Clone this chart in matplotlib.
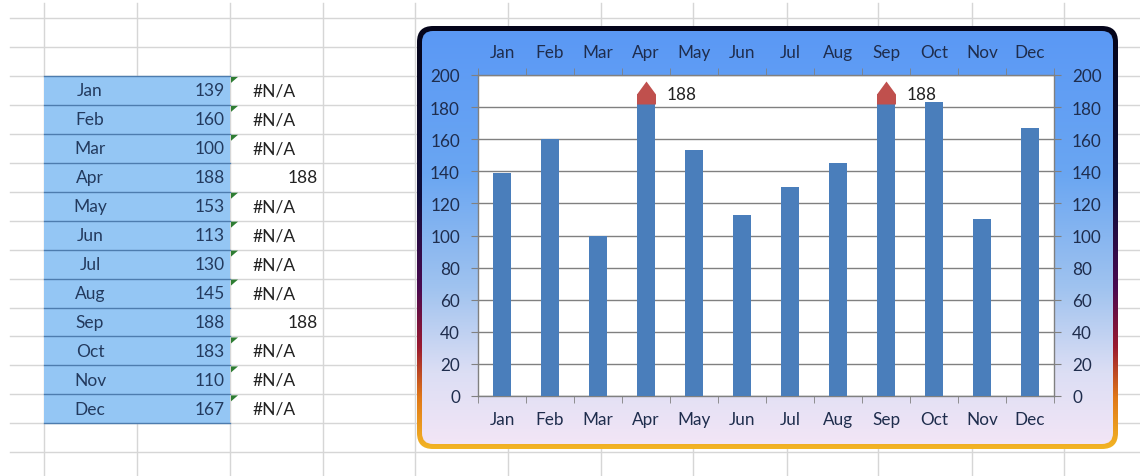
import numpy as np
import matplotlib
matplotlib.use("Agg")
import matplotlib.pyplot as plt
from matplotlib.patches import FancyBboxPatch, Rectangle, Polygon
from matplotlib.colors import LinearSegmentedColormap

# data as shown in the sheet
months = ["Jan", "Feb", "Mar", "Apr", "May", "Jun",
          "Jul", "Aug", "Sep", "Oct", "Nov", "Dec"]
sales = [139, 160, 100, 188, 153, 113, 130, 145, 188, 183, 110, 167]
peak = [np.nan, np.nan, np.nan, 188, np.nan, np.nan,
        np.nan, np.nan, 188, np.nan, np.nan, np.nan]
y_ticks = [0, 20, 40, 60, 80, 100, 120, 140, 160, 180, 200]

W, H, DPI = 1140, 477, 100
FONT = ["Lato", "DejaVu Sans"]
plt.rcParams["font.family"] = FONT

BAR = "#4a7ebb"
RED = "#c0504d"
GRID = "#808080"
LABEL = "#1f2d4d"
TS = 12.5   # table text size
CS = 12.3   # chart text size

fig = plt.figure(figsize=(W / DPI, H / DPI), dpi=DPI)
fig.patch.set_facecolor("white")

# --- spreadsheet backdrop (pixel coordinates) ---
bg = fig.add_axes([0, 0, 1, 1])
bg.set_xlim(0, W)
bg.set_ylim(H, 0)
bg.axis("off")

col_x = [44, 137, 230, 323, 415, 508, 601, 693, 787, 878, 972, 1064]
row_y = [19 + 28.95 * i for i in range(16)]
for cx in col_x:
    bg.plot([cx, cx], [4, H], color="#d6d6d6", lw=1, zorder=1)
for ry in row_y:
    bg.plot([10, W], [ry, ry], color="#d6d6d6", lw=1, zorder=1)

# table
t_top, t_bot = row_y[2], row_y[14]
bg.add_patch(Rectangle((44, t_top), 186, t_bot - t_top,
                       facecolor="#94c6f4", edgecolor="none", zorder=2))
for i, (m, v, p) in enumerate(zip(months, sales, peak)):
    top = row_y[2 + i]
    mid = top + 14.5
    bg.plot([44, 230], [top + 28.95, top + 28.95], color="#4d7cae", lw=1, zorder=3)
    bg.text(90, mid, m, ha="center", va="center", fontsize=TS, color="#233a5e", zorder=4)
    bg.text(225, mid, str(v), ha="right", va="center", fontsize=TS, color="#233a5e", zorder=4)
    if np.isnan(p):
        bg.text(253, mid, "#N/A", ha="left", va="center", fontsize=TS, color="#222222", zorder=4)
        bg.add_patch(Polygon([(231, top + 1), (238, top + 1), (231, top + 7)],
                             closed=True, facecolor="#2e7d32", edgecolor="none", zorder=4))
    else:
        bg.text(318, mid, f"{p:.0f}", ha="right", va="center", fontsize=TS, color="#222222", zorder=4)
bg.plot([44, 230], [t_top, t_top], color="#4d7cae", lw=1, zorder=3)

# chart frame: gradient border + gradient fill
fx0, fy0, fx1, fy1 = 417, 27, 1118, 450
border_cmap = LinearSegmentedColormap.from_list("border", [
    (0.0, "#05051a"), (0.4, "#0e0e3a"), (0.62, "#4a0a50"),
    (0.76, "#9a1a30"), (0.88, "#e07818"), (1.0, "#f2b424")])
fill_cmap = LinearSegmentedColormap.from_list("fill", [
    (0.0, "#5a98f5"), (0.35, "#6aa6f2"), (0.62, "#a0c3ef"),
    (0.82, "#dcdef4"), (1.0, "#f4e6f6")])
grad = np.linspace(0, 1, 256).reshape(-1, 1)

outer = FancyBboxPatch((fx0, fy0), fx1 - fx0, fy1 - fy0,
                       boxstyle="round,pad=0,rounding_size=16",
                       facecolor="none", edgecolor="none", zorder=5)
bg.add_patch(outer)
im = bg.imshow(grad, extent=[fx0, fx1, fy1, fy0], aspect="auto",
               cmap=border_cmap, zorder=5)
im.set_clip_path(outer)

b = 5
inner = FancyBboxPatch((fx0 + b, fy0 + b), fx1 - fx0 - 2 * b, fy1 - fy0 - 2 * b,
                       boxstyle="round,pad=0,rounding_size=11",
                       facecolor="none", edgecolor="none", zorder=6)
bg.add_patch(inner)
im2 = bg.imshow(grad, extent=[fx0, fx1, fy1, fy0], aspect="auto",
                cmap=fill_cmap, zorder=6)
im2.set_clip_path(inner)
bg.set_xlim(0, W)
bg.set_ylim(H, 0)

# --- the chart ---
px0, px1, py_top, py_bot = 478, 1054, 76, 397
ax = fig.add_axes([px0 / W, 1 - py_bot / H, (px1 - px0) / W, (py_bot - py_top) / H])
ax.set_facecolor("white")

x = np.arange(len(months))
ax.bar(x, sales, width=0.38, color=BAR, zorder=3)

# arrow-head marker on the peak months
arrow = [(-9.5, -10), (9.5, -10), (9.5, 0), (0, 13), (-9.5, 0), (-9.5, -10)]
ax.plot(x, peak, linestyle="none", marker=arrow, markersize=18.7,
        color=RED, markeredgewidth=0, zorder=4)
for i, p in enumerate(peak):
    if not np.isnan(p):
        ax.annotate(f"{p:.0f}", (i, p), xytext=(15, 0), textcoords="offset points",
                    ha="left", va="center", fontsize=CS, color="#222222", zorder=5)

ax.set_xlim(-0.5, len(months) - 0.5)
ax.set_ylim(0, 200)
ax.set_yticks(y_ticks)
ax.yaxis.grid(True, color=GRID, lw=1, zorder=1)

ax.set_xticks(x)
ax.set_xticklabels(months)
ax.set_xticks(np.arange(-0.5, len(months)), minor=True)
ax.tick_params(axis="x", which="major", length=0, top=True, labeltop=True,
               bottom=True, labelbottom=True, pad=11, labelsize=CS, labelcolor=LABEL)
ax.tick_params(axis="x", which="minor", length=5, top=True, bottom=True,
               direction="out", color=GRID)
ax.tick_params(axis="y", which="major", length=5, left=True, right=True,
               labelleft=True, labelright=True, direction="out", color=GRID,
               pad=8, labelsize=CS, labelcolor=LABEL)
for s in ax.spines.values():
    s.set_color(GRID)
    s.set_linewidth(1)

fig.savefig("out.png", dpi=DPI)
